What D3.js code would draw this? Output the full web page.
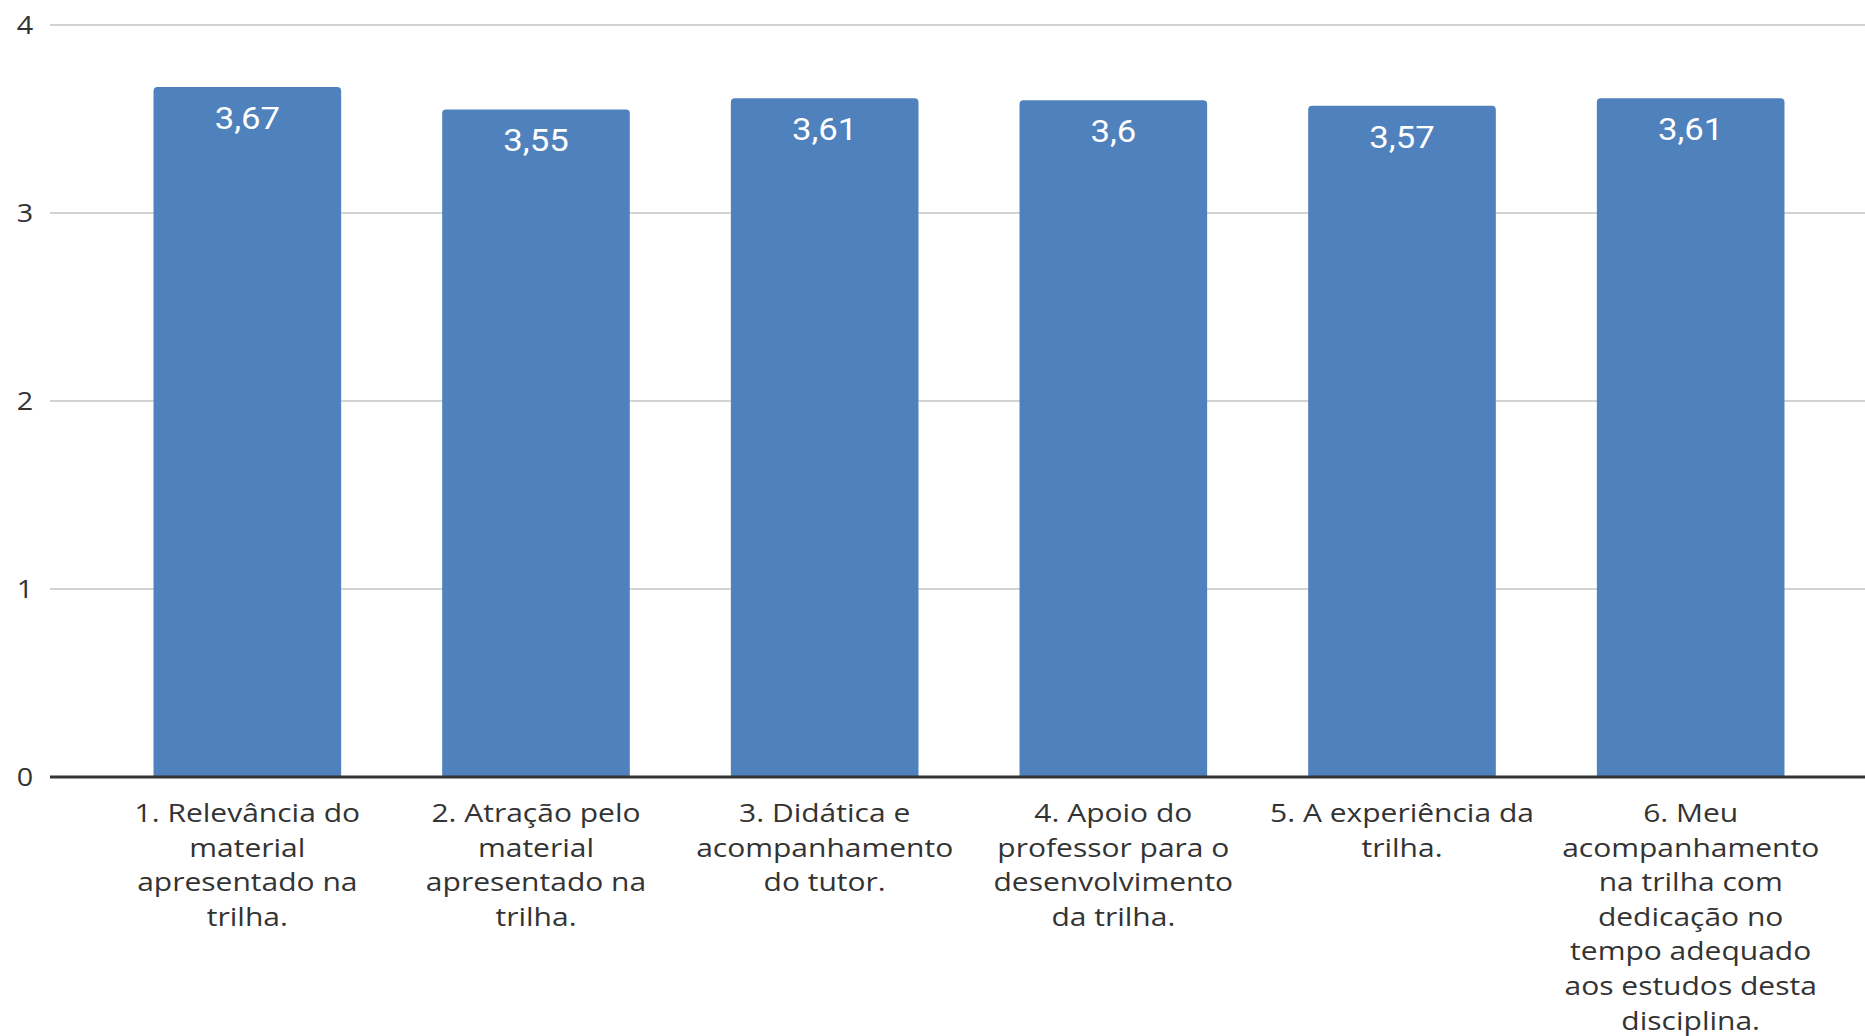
<!DOCTYPE html>
<html><head><meta charset="utf-8">
<script src="https://cdn.jsdelivr.net/npm/d3@7"></script>
<style>html,body{margin:0;padding:0;background:#fff;overflow:hidden}</style>
</head><body>
<svg id="chart" width="1865" height="1036"></svg>
<script>
const categories = ["c1","c2","c3","c4","c5","c6"];
const categoryLabels = [
  ["1. Relevância do","material","apresentado na","trilha."],
  ["2. Atração pelo","material","apresentado na","trilha."],
  ["3. Didática e","acompanhamento","do tutor."],
  ["4. Apoio do","professor para o","desenvolvimento","da trilha."],
  ["5. A experiência da","trilha."],
  ["6. Meu","acompanhamento","na trilha com","dedicação no","tempo adequado","aos estudos desta","disciplina."]
];
const values = [3.67, 3.55, 3.61, 3.6, 3.57, 3.61];
const valueLabels = ["3,67","3,55","3,61","3,6","3,57","3,61"];
const yTicks = [0,1,2,3,4];

const svg = d3.select("#chart");
const gridLeft = 50, gridRight = 1865;
const x = d3.scaleBand().domain(categories).range([103, 1835]).paddingInner(0.35).paddingOuter(0.175);
const y = d3.scaleLinear().domain([0,4]).range([777, 25]);

// gridlines
svg.append("g").selectAll("line").data(yTicks.filter(d=>d>0)).join("line")
  .attr("x1", gridLeft).attr("x2", gridRight)
  .attr("y1", d=>y(d)).attr("y2", d=>y(d))
  .attr("stroke", "#d3d3d3").attr("stroke-width", 2);

// y axis labels
svg.append("g").selectAll("text").data(yTicks).join("text")
  .attr("transform", d=>`translate(25,${y(d)}) scale(1.15,1)`)
  .attr("dy","0.35em").attr("text-anchor","middle")
  .attr("font-family","'Open Sans', sans-serif").attr("font-size",25).attr("fill","#333")
  .text(d3.format("d"));

// bars with rounded top corners
const r = 4;
function barPath(d, i){
  const x0 = x(categories[i]), w = x.bandwidth(), yt = y(d), yb = y(0);
  return `M${x0},${yb} L${x0},${yt+r} Q${x0},${yt} ${x0+r},${yt} L${x0+w-r},${yt} Q${x0+w},${yt} ${x0+w},${yt+r} L${x0+w},${yb} Z`;
}
svg.append("g").selectAll("path").data(values).join("path")
  .attr("d", (d,i)=>barPath(d,i)).attr("fill", "#4f81bd");

// value labels
svg.append("g").selectAll("text").data(values).join("text")
  .attr("transform", (d,i)=>`translate(${x(categories[i]) + x.bandwidth()/2},${y(d) + 31}) scale(1.12,1)`)
  .attr("dy","0.35em")
  .attr("text-anchor","middle")
  .attr("font-family","Roboto, sans-serif").attr("font-size",31)
  .attr("fill","#fff")
  .text((d,i)=>valueLabels[i]);

// baseline
svg.append("line").attr("x1", gridLeft).attr("x2", gridRight)
  .attr("y1", y(0)).attr("y2", y(0)).attr("stroke","#333").attr("stroke-width",3);

// category labels
const xa = svg.append("g");
categories.forEach((c,i)=>{
  const t = xa.append("text")
    .attr("transform", `translate(${x(c) + x.bandwidth()/2},822) scale(1.2,1)`)
    .attr("text-anchor","middle")
    .attr("font-family","'Open Sans', sans-serif").attr("font-size",25)
    .attr("fill","#333");
  categoryLabels[i].forEach((line,j)=>{
    t.append("tspan").attr("x", 0).attr("y", j*34.6).text(line);
  });
});
</script>
</body></html>
